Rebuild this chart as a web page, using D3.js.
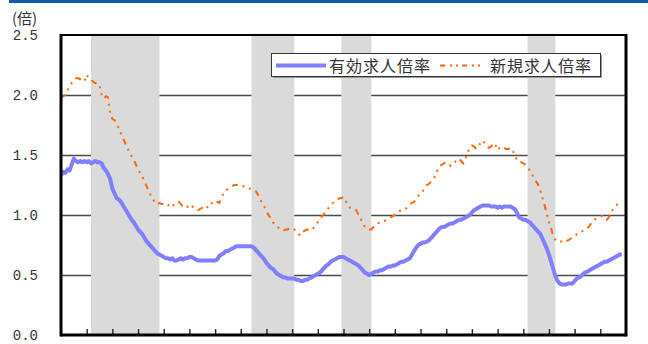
<!DOCTYPE html>
<html>
<head>
<meta charset="utf-8">
<script src="https://cdn.jsdelivr.net/npm/d3@7"></script>
<style>
  html, body { margin: 0; padding: 0; background: #fff; }
  svg { display: block; }
</style>
</head>
<body>
<svg id="chart" width="648" height="344"></svg>
<script>
// Monthly series, January 1990 onward
const startYear = 1990;

// 有効求人倍率 (active job openings-to-applicants ratio)
const activeRatio = [
  1.33,1.36,1.35,1.38,1.37,1.42,1.47,1.45,1.44,1.45,1.44,1.45, // 1990
  1.44,1.45,1.43,1.44,1.45,1.44,1.44,1.43,1.39,1.37,1.34,1.30, // 1991
  1.22,1.18,1.14,1.13,1.11,1.08,1.05,1.02,0.99,0.96,0.94,0.91, // 1992
  0.88,0.86,0.84,0.81,0.78,0.76,0.74,0.72,0.70,0.68,0.67,0.66, // 1993
  0.65,0.64,0.64,0.63,0.64,0.62,0.62,0.63,0.64,0.63,0.64,0.64, // 1994
  0.65,0.65,0.64,0.63,0.62,0.62,0.62,0.62,0.62,0.62,0.62,0.62, // 1995
  0.62,0.63,0.66,0.67,0.68,0.70,0.70,0.71,0.72,0.73,0.74,0.74, // 1996
  0.74,0.74,0.74,0.74,0.74,0.74,0.73,0.71,0.69,0.67,0.65,0.63, // 1997
  0.60,0.58,0.56,0.55,0.53,0.51,0.50,0.49,0.48,0.48,0.47,0.47, // 1998
  0.47,0.47,0.46,0.46,0.45,0.45,0.46,0.46,0.47,0.48,0.49,0.50, // 1999
  0.51,0.52,0.54,0.56,0.58,0.59,0.61,0.62,0.63,0.64,0.65,0.65, // 2000
  0.65,0.64,0.63,0.62,0.61,0.60,0.59,0.58,0.56,0.54,0.52,0.51, // 2001
  0.50,0.51,0.52,0.53,0.53,0.54,0.54,0.55,0.56,0.57,0.57,0.58, // 2002
  0.58,0.59,0.60,0.61,0.61,0.62,0.63,0.64,0.67,0.70,0.73,0.75, // 2003
  0.76,0.77,0.77,0.78,0.79,0.81,0.83,0.85,0.87,0.89,0.90,0.90, // 2004
  0.91,0.92,0.93,0.93,0.94,0.95,0.96,0.96,0.97,0.98,0.99,1.00, // 2005
  1.02,1.04,1.05,1.06,1.07,1.08,1.08,1.08,1.08,1.07,1.07,1.07, // 2006
  1.06,1.07,1.06,1.07,1.07,1.07,1.07,1.06,1.05,1.02,0.98,0.97, // 2007
  0.96,0.96,0.95,0.94,0.92,0.90,0.88,0.86,0.84,0.80,0.76,0.72, // 2008
  0.67,0.61,0.55,0.49,0.45,0.43,0.42,0.42,0.42,0.43,0.43,0.43, // 2009
  0.45,0.47,0.48,0.49,0.51,0.52,0.53,0.54,0.55,0.56,0.57,0.58, // 2010
  0.59,0.60,0.61,0.61,0.62,0.63,0.64,0.65,0.66,0.67,0.67       // 2011
];

// 新規求人倍率 (new job openings-to-applicants ratio)
const newRatio = [
  1.97,1.99,2.00,2.04,2.07,2.10,2.12,2.14,2.14,2.13,2.11,2.12, // 1990
  2.17,2.14,2.13,2.11,2.10,2.10,2.08,2.00,1.97,1.99,1.98,1.84, // 1991
  1.80,1.79,1.76,1.72,1.68,1.64,1.60,1.56,1.52,1.49,1.46,1.42, // 1992
  1.38,1.35,1.32,1.28,1.24,1.20,1.16,1.13,1.10,1.09,1.10,1.09, // 1993
  1.10,1.09,1.08,1.09,1.07,1.09,1.10,1.11,1.09,1.07,1.06,1.07, // 1994
  1.06,1.08,1.06,1.05,1.04,1.05,1.06,1.08,1.07,1.06,1.09,1.11, // 1995
  1.12,1.11,1.10,1.15,1.18,1.20,1.22,1.23,1.24,1.25,1.25,1.25, // 1996
  1.25,1.24,1.24,1.23,1.22,1.22,1.21,1.20,1.17,1.13,1.10,1.07, // 1997
  1.03,1.00,0.97,0.94,0.92,0.90,0.89,0.88,0.87,0.88,0.88,0.89, // 1998
  0.89,0.88,0.86,0.84,0.83,0.86,0.87,0.88,0.87,0.88,0.89,0.91, // 1999
  0.94,0.97,0.99,1.01,1.03,1.06,1.08,1.10,1.11,1.12,1.14,1.14, // 2000
  1.15,1.12,1.08,1.06,1.05,1.05,1.04,1.00,0.97,0.93,0.90,0.89, // 2001
  0.88,0.88,0.90,0.92,0.93,0.94,0.95,0.95,0.96,0.97,0.98,0.99, // 2002
  1.00,1.02,1.03,1.04,1.04,1.05,1.07,1.09,1.10,1.11,1.13,1.16, // 2003
  1.19,1.20,1.22,1.25,1.26,1.28,1.30,1.33,1.38,1.41,1.42,1.43, // 2004
  1.44,1.43,1.41,1.43,1.44,1.46,1.47,1.45,1.43,1.47,1.52,1.56, // 2005
  1.58,1.57,1.55,1.57,1.60,1.62,1.60,1.57,1.56,1.57,1.60,1.58, // 2006
  1.54,1.56,1.57,1.56,1.55,1.55,1.56,1.54,1.50,1.46,1.44,1.44, // 2007
  1.43,1.42,1.40,1.37,1.34,1.31,1.28,1.25,1.20,1.14,1.08,1.01, // 2008
  0.94,0.89,0.82,0.79,0.78,0.78,0.78,0.77,0.78,0.79,0.80,0.81, // 2009
  0.82,0.84,0.85,0.86,0.87,0.88,0.89,0.91,0.94,0.96,0.97,0.98, // 2010
  0.99,0.99,0.97,0.96,0.98,1.02,1.05,1.07,1.09,1.10,1.11       // 2011
];

// Recession phases (first and last month shaded)
const recessionFrom = ["1991-03", "1997-06", "2000-12", "2008-03"];
const recessionTo   = ["1993-10", "1999-01", "2002-01", "2009-03"];

const yTicks = [0, 0.5, 1.0, 1.5, 2.0, 2.5];
const yearTicks = d3.range(1991, 2012);
const seriesNames = ["有効求人倍率", "新規求人倍率"];
const unitLabel = "(倍)";

// ---- layout ----
const svg = d3.select("#chart");
const plotLeft = 61, plotRight = 626, plotTop = 35, plotBottom = 335;

const x = d3.scaleLinear().domain([1990, 2012]).range([plotLeft, plotRight]);
const y = d3.scaleLinear().domain([0, 2.5]).range([plotBottom, plotTop]);

const monthToYear = s => { const [yy, mm] = s.split("-").map(Number); return yy + (mm - 1) / 12; };

// header band
svg.append("rect").attr("x", 9).attr("y", 0).attr("width", 639).attr("height", 3).attr("fill", "#0b5ba6");

// horizontal gridlines
svg.append("g")
  .attr("transform", `translate(${plotLeft},0)`)
  .call(d3.axisLeft(y).tickValues(yTicks.slice(1, -1)).tickSize(-(plotRight - plotLeft)).tickFormat(""))
  .call(g => g.select(".domain").remove())
  .call(g => g.selectAll("line").attr("stroke", "#4a4a4a").attr("stroke-width", 1.6));

// recession shading
svg.append("g").selectAll("rect")
  .data(recessionFrom.map((d, i) => [monthToYear(d), monthToYear(recessionTo[i]) + 1 / 12]))
  .join("rect")
  .attr("x", d => x(d[0]))
  .attr("y", plotTop)
  .attr("width", d => x(d[1]) - x(d[0]))
  .attr("height", plotBottom - plotTop)
  .attr("fill", "#dadada");

// year ticks along the bottom
svg.append("g")
  .attr("transform", `translate(0,${plotBottom})`)
  .call(d3.axisBottom(x).tickValues(yearTicks).tickSize(-6).tickFormat(""))
  .call(g => g.select(".domain").remove())
  .call(g => g.selectAll("line").attr("stroke", "#222").attr("stroke-width", 1.4));

// y tick labels
svg.append("g")
  .attr("transform", `translate(${plotLeft},0)`)
  .call(d3.axisLeft(y).tickValues(yTicks).tickSize(0).tickPadding(23).tickFormat(d3.format(".1f")))
  .call(g => g.select(".domain").remove())
  .call(g => g.selectAll("text")
    .attr("font-family", "'Liberation Mono', 'DejaVu Sans Mono', monospace")
    .attr("font-size", 14)
    .attr("fill", "#333"));

svg.append("text")
  .attr("x", 12).attr("y", 24)
  .attr("font-family", "'Noto Sans CJK JP', sans-serif")
  .attr("font-size", 15)
  .attr("fill", "#333")
  .text(unitLabel);

// series lines
const toPoints = arr => arr.map((v, i) => [startYear + i / 12, v]);
const line = d3.line().x(d => x(d[0])).y(d => y(d[1]));

svg.append("path")
  .datum(toPoints(newRatio))
  .attr("fill", "none")
  .attr("stroke", "#ff6600")
  .attr("stroke-width", 2)
  .attr("stroke-dasharray", "6,5,2,5,2,5")
  .attr("d", line);

svg.append("path")
  .datum(toPoints(activeRatio))
  .attr("fill", "none")
  .attr("stroke", "#7f7fff")
  .attr("stroke-width", 4)
  .attr("stroke-linejoin", "round")
  .attr("d", line);

// plot frame
const frame = svg.append("g").attr("fill", "none").attr("stroke", "#000");
frame.append("line").attr("x1", plotLeft).attr("x2", plotRight).attr("y1", plotTop).attr("y2", plotTop).attr("stroke-width", 2);
frame.append("line").attr("x1", plotLeft).attr("x2", plotRight).attr("y1", plotBottom).attr("y2", plotBottom).attr("stroke-width", 3);
frame.append("line").attr("x1", plotLeft).attr("x2", plotLeft).attr("y1", plotTop - 1).attr("y2", plotBottom + 1.5).attr("stroke-width", 3);
frame.append("line").attr("x1", plotRight).attr("x2", plotRight).attr("y1", plotTop - 1).attr("y2", plotBottom + 1.5).attr("stroke-width", 3);

// legend
const lg = svg.append("g");
lg.append("rect").attr("x", 273).attr("y", 55).attr("width", 329).attr("height", 23).attr("fill", "#999");
lg.append("rect").attr("x", 271.5).attr("y", 53.5).attr("width", 329).attr("height", 23)
  .attr("fill", "#fff").attr("stroke", "#333").attr("stroke-width", 1);
lg.append("line").attr("x1", 276).attr("x2", 326).attr("y1", 65.5).attr("y2", 65.5)
  .attr("stroke", "#7f7fff").attr("stroke-width", 4);
lg.append("line").attr("x1", 440).attr("x2", 482).attr("y1", 65.5).attr("y2", 65.5)
  .attr("stroke", "#ff6600").attr("stroke-width", 2).attr("stroke-dasharray", "5,5,2,4,2,4");
lg.selectAll("text.series")
  .data(seriesNames)
  .join("text")
  .attr("class", "series")
  .attr("x", (d, i) => i === 0 ? 329 : 490)
  .attr("y", 71.5)
  .attr("font-family", "'Noto Sans CJK JP', sans-serif")
  .attr("font-size", 16)
  .attr("letter-spacing", 1)
  .attr("fill", "#333")
  .text(d => d);
</script>
</body>
</html>
